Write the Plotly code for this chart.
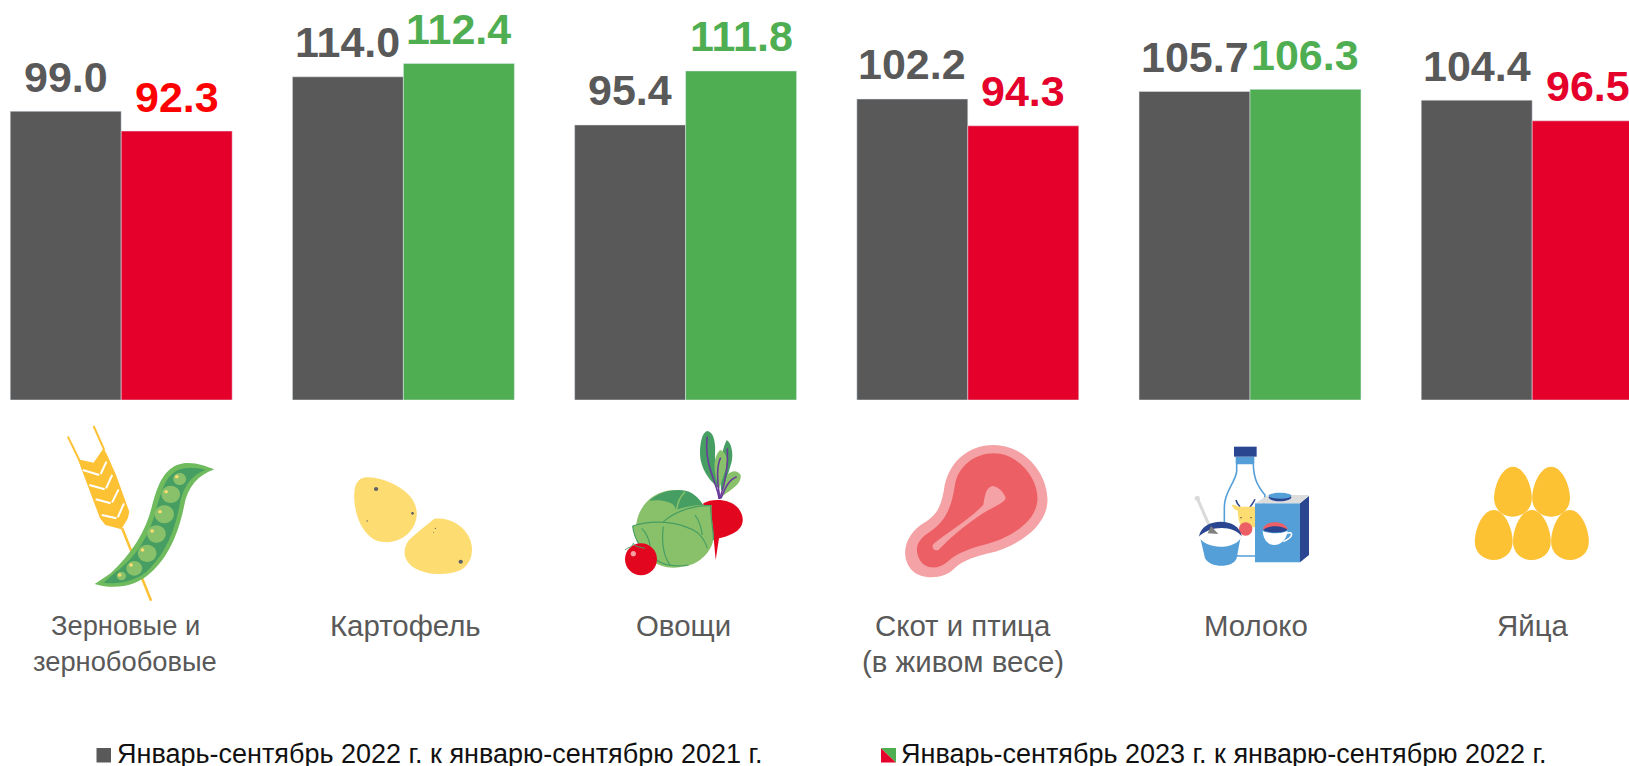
import re
import plotly.graph_objects as go

W, H = 1629, 766

category_lines = [["Зерновые и", "зернобобовые"], ["Картофель"], ["Овощи"], ["Скот и птица", "(в живом весе)"], ["Молоко"], ["Яйца"]]
category_shift_px = [4, 2, -2.5, -5, 5.5, 0]
category_font = [27.3, 29.4, 29.4, 29.4, 29.4, 29.4]
series_2022_name = "Январь-сентябрь 2022 г. к январю-сентябрю 2021 г."
series_2023_name = "Январь-сентябрь 2023 г. к январю-сентябрю 2022 г."
# printed labels
labels_2022 = ["99.0", "114.0", "95.4", "102.2", "105.7", "104.4"]
labels_2023 = ["92.3", "112.4", "111.8", "94.3", "106.3", "96.5"]
# bar heights as drawn in the picture (they differ a little from the printed labels)
heights_2022 = [99.0, 110.8, 94.3, 103.2, 105.8, 102.8]
heights_2023 = [92.2, 115.4, 112.8, 94.0, 106.5, 95.7]

GRAY, RED, GREEN = "#595959", "#E4002B", "#4FAE52"
colors_2023 = [RED, GREEN, GREEN, RED, GREEN, RED]
label_colors_2023 = ["#FF0000", GREEN, GREEN, RED, GREEN, RED]
FONT = "Liberation Sans, Arial, sans-serif"

PERIOD, FIRST_CENTER = 282.2, 121.2
BARGAP = 0.2135
BASE_Y = 400
PX_PER_UNIT = 2.917

idx = list(range(len(labels_2022)))
fig = go.Figure()
fig.add_bar(x=idx, y=heights_2022, name=series_2022_name, marker_color=GRAY)
fig.add_bar(x=idx, y=heights_2023, name=series_2023_name, marker_color=colors_2023)

half = (1 - BARGAP) / 4
ann = []
for i in idx:
    ann.append(dict(x=i - half, y=heights_2022[i], text=labels_2022[i], font=dict(color=GRAY)))
    ann.append(dict(x=i + half, y=heights_2023[i], text=labels_2023[i], font=dict(color=label_colors_2023[i])))
for a in ann:
    a.update(xref="x", yref="y", showarrow=False, yanchor="bottom", yshift=9.5, borderpad=0)
    a["font"].update(family=FONT, size=43, weight="bold")

# category names sit below the icons, so each line is placed on its own
for i, lines in enumerate(category_lines):
    for n, line in enumerate(lines):
        ann.append(dict(xref="x", yref="paper", x=i, xshift=category_shift_px[i], y=1 - (625 + 36 * n) / H,
                        text=line, showarrow=False, yanchor="middle", borderpad=0,
                        font=dict(family=FONT, size=category_font[i], color=GRAY)))

# legend, drawn by hand because the second swatch is two-coloured
for name, lx in ((series_2022_name, 115.5), (series_2023_name, 900)):
    ann.append(dict(xref="paper", yref="paper", x=lx / W, y=1 - 770 / H, text=name, showarrow=False,
                    xanchor="left", yanchor="bottom", borderpad=0,
                    font=dict(family=FONT, size=27, color="#111111")))

shapes = []

def conv(path, x0, y0, sx, sy):
    toks = re.findall(r"[MLCQZ]|-?\d+\.?\d*", path)
    res, is_x = [], True
    for t in toks:
        if t.isalpha():
            res.append(t)
            is_x = True
        elif is_x:
            res.append(f"{(float(t) / sx + x0) / W:.5f},")
            is_x = False
        else:
            res.append(f"{1 - (float(t) / sy + y0) / H:.5f} ")
            is_x = True
    return "".join(res).strip()

Z_L = (0, 410, 2.8, 3)         # grain and potato
Z_M = (560, 410, 2.8, 3)       # meat
Z_V = (620, 425, 3, 3)         # vegetables
Z_K = (1185, 440, 3, 3)        # milk
Z_R = (1100, 410, 2.964, 3)    # eggs

def P(path, Z, fill=None, line=None, lw=0):
    shapes.append(dict(type="path", xref="paper", yref="paper", path=conv(path, *Z),
                       fillcolor=fill if fill else "rgba(0,0,0,0)",
                       line=dict(color=line if line else "rgba(0,0,0,0)", width=lw)))

def E(cx, cy, rx, ry, Z, fill):
    k = 0.5523
    p = (f"M {cx-rx} {cy} C {cx-rx} {cy-k*ry} {cx-k*rx} {cy-ry} {cx} {cy-ry} "
         f"C {cx+k*rx} {cy-ry} {cx+rx} {cy-k*ry} {cx+rx} {cy} "
         f"C {cx+rx} {cy+k*ry} {cx+k*rx} {cy+ry} {cx} {cy+ry} "
         f"C {cx-k*rx} {cy+ry} {cx-rx} {cy+k*ry} {cx-rx} {cy} Z")
    P(p, Z, fill=fill)

YEL, POT, LG, DG, LPOD = "#FDC134", "#FDDC72", "#89C16A", "#479E63", "#6FBB5E"
CR, BL, NV, PK, SAL = "#E2071F", "#559FD8", "#2B4690", "#F4A2A5", "#EC6065"

# wheat
P("M 190 80 L 222 150", Z_L, line=YEL, lw=2)
P("M 262 48 L 292 120", Z_L, line=YEL, lw=2)
P("M 342 355 L 423 572", Z_L, line=YEL, lw=2.5)
P("M 218 148 L 262 158 L 290 115 L 300 135 L 325 195 L 362 305 L 358 325 L 340 358 L 295 345 L 280 325 Z", Z_L, fill=YEL)
for a, b, c in [((232,180),(278,195),(298,155)), ((250,225),(293,238),(314,195)),
                ((268,268),(310,280),(332,238)), ((285,315),(326,325),(347,280))]:
    P(f"M {a[0]} {a[1]} L {b[0]} {b[1]} M {b[0]+4} {b[1]-3} L {c[0]} {c[1]}", Z_L, line="#FFFFFF", lw=2)
# pod
P("M 600 178 C 570 165 530 150 495 165 C 455 185 440 230 425 290 C 410 360 370 430 310 490 L 265 522 "
  "C 320 540 380 530 420 490 C 470 445 500 370 515 290 C 525 230 555 195 600 178 Z", Z_L, fill=LPOD)
P("M 575 180 C 545 170 510 170 490 185 C 460 205 450 250 437 300 C 420 370 385 440 320 490 L 290 518 "
  "C 340 525 390 510 420 475 C 465 425 490 360 503 285 C 513 225 540 195 575 180 Z", Z_L, fill=DG)
for cx, cy, r in [(503,207,18),(478,253,26),(460,313,27),(438,372,26),(412,430,26),(376,475,22),(340,498,13)]:
    E(cx, cy, r, r, Z_L, LG)
for cx, cy in [(495,200),(465,245),(448,305),(426,363),(399,420),(367,465),(335,495)]:
    E(cx, cy, 5, 5, Z_L, POT)
# potatoes
P("M 1025 202 C 1060 200 1110 220 1140 250 C 1170 280 1175 320 1155 355 C 1130 395 1085 405 1050 390 "
  "C 1015 370 995 320 992 270 C 990 225 1000 205 1025 202 Z", Z_L, fill=POT)
P("M 1215 327 C 1250 320 1290 340 1310 375 C 1330 410 1325 460 1290 480 C 1250 500 1190 495 1155 470 "
  "C 1130 450 1125 420 1145 390 C 1165 370 1190 350 1215 327 Z", Z_L, fill=POT)
for cx, cy, r in [(1053,237,6),(1155,310,4),(1028,333,2),(1290,455,6),(1219,355,2),(1214,367,1.5)]:
    E(cx, cy, r, r, Z_L, "#5F6368")

# beet
P("M 262 18 C 280 20 288 50 285 90 C 285 130 295 170 297 190 C 270 170 240 130 240 85 C 240 50 248 20 262 18 Z", Z_V, fill=DG)
P("M 320 45 C 335 55 340 85 335 110 L 310 195 L 303 195 C 300 140 300 85 320 45 Z", Z_V, fill=DG)
P("M 300 75 C 318 80 325 100 318 130 L 298 190 C 282 150 275 100 300 75 Z", Z_V, fill=LG)
P("M 362 150 C 352 135 335 135 322 150 L 305 215 C 330 195 365 180 362 150 Z", Z_V, fill=LG)
for d in ["M 297 222 C 295 180 250 120 262 35", "M 300 222 C 290 170 290 120 302 98",
          "M 300 220 C 320 160 325 110 322 70", "M 303 220 C 315 190 325 165 350 155"]:
    P(d, Z_V, line="#6A3D9A", lw=1.6)
P("M 250 235 C 275 220 330 220 355 250 C 378 280 370 310 340 325 C 325 333 310 338 297 340 L 287 405 L 281 340 L 250 300 Z", Z_V, fill=CR)
# cabbage
E(160, 312, 112, 116, Z_V, LG)
P("M 38 303 C 42 340 65 385 110 405 L 110 295 Z", Z_V, fill=LG)
P("M 130 290 C 165 260 220 240 275 240 C 272 270 282 320 280 345 C 270 390 230 420 190 425 L 150 350 Z", Z_V, fill=LG)
P("M 88 228 C 115 200 165 190 200 198 C 225 205 240 225 250 240 C 225 240 195 245 168 255 C 165 245 160 235 145 232 C 125 225 105 225 88 228 Z", Z_V, fill=DG)
P("M 195 200 C 180 215 172 235 170 255", Z_V, line=LG, lw=1.5)
for d in ["M 38 303 C 90 285 180 285 235 325 C 250 340 258 355 262 370",
          "M 130 290 C 165 260 220 240 272 242 C 270 275 282 320 280 345",
          "M 38 303 C 42 340 65 385 110 405 C 135 425 170 425 205 420",
          "M 130 305 C 125 345 125 385 150 420",
          "M 65 310 C 80 325 88 345 90 362",
          "M 225 270 C 240 290 245 315 247 330"]:
    P(d, Z_V, line=DG, lw=1.2)
# tomato
E(63, 403, 48, 48, Z_V, CR)
E(40, 386, 8, 8, Z_V, PK)
P("M 15 375 C 25 365 35 370 40 355 C 45 365 55 365 75 370", Z_V, line=DG, lw=1)
# meat
P("M 1215 105 C 1300 105 1365 190 1365 270 C 1365 350 1280 410 1200 430 C 1165 440 1130 450 1105 475 "
  "C 1075 510 1010 510 985 480 C 955 445 960 385 1010 345 C 1050 320 1065 300 1075 240 C 1085 160 1140 105 1215 105 Z", Z_M, fill=PK)
P("M 1215 130 C 1280 130 1337 200 1337 265 C 1337 335 1260 385 1185 405 C 1150 415 1110 430 1085 455 "
  "C 1060 480 1020 480 1005 445 C 990 410 1005 385 1040 362 C 1075 335 1095 300 1105 230 C 1112 170 1160 130 1215 130 Z", Z_M, fill=SAL)
P("M 1210 228 C 1230 230 1245 250 1248 265 C 1240 285 1200 295 1170 320 C 1130 350 1090 385 1060 420 "
  "C 1045 425 1038 410 1048 400 C 1080 370 1140 335 1185 285 C 1190 260 1190 235 1210 228 Z", Z_M, fill=PK)

# milk bottle
P("M 155 70 L 155 95 C 150 130 118 155 118 200 L 118 330 C 120 345 150 348 165 348 L 215 348 L 240 165 C 215 135 205 110 205 70 Z",
  Z_K, fill="#FFFFFF", line=BL, lw=1.6)
P("M 152 50 L 208 50 L 208 70 L 152 70 Z", Z_K, fill=BL)
P("M 147 20 L 215 20 L 215 50 L 147 50 Z", Z_K, fill=NV)
# cow
P("M 153 180 C 155 190 160 195 165 200", Z_K, line=NV, lw=1.5)
P("M 210 178 C 205 190 198 195 195 202", Z_K, line=NV, lw=1.5)
P("M 140 195 C 150 193 157 198 162 205 L 157 212 C 150 210 145 205 140 195 Z", Z_K, fill=POT)
P("M 158 200 L 212 200 L 212 262 L 170 262 C 160 245 158 225 158 200 Z", Z_K, fill=POT)
E(168, 233, 2, 2, Z_K, "#333333")
E(198, 233, 2, 2, Z_K, "#333333")
E(182, 267, 20, 20, Z_K, SAL)
# carton
P("M 210 190 L 345 190 L 345 367 L 210 367 Z", Z_K, fill=BL)
P("M 345 190 L 372 168 L 372 345 L 345 367 Z", Z_K, fill=NV)
P("M 210 190 L 250 165 L 372 165 L 345 190 Z", Z_K, fill="#DDDDDD")
E(285, 172, 34, 12, Z_K, NV)
E(285, 167, 34, 9, Z_K, BL)
P("M 233 268 C 240 240 300 240 308 268 Z", Z_K, fill=SAL)
P("M 235 270 C 245 255 295 255 307 270 C 295 280 245 280 235 270 Z", Z_K, fill=NV)
P("M 233 272 C 245 282 295 282 308 272 C 305 300 285 315 268 315 C 250 315 235 300 233 272 Z", Z_K, fill="#FFFFFF")
P("M 305 280 C 325 272 328 290 295 305", Z_K, line="#FFFFFF", lw=1.5)
# bowl and spoon
P("M 37 175 L 75 262", Z_K, line="#DADADA", lw=3)
E(37, 175, 8, 8, Z_K, "#DADADA")
P("M 46 295 C 70 325 145 325 167 290 L 155 355 C 145 385 75 385 60 355 Z", Z_K, fill=BL)
P("M 42 290 C 50 230 165 230 170 290 C 150 262 65 262 42 290 Z", Z_K, fill=NV)
P("M 42 292 C 70 255 150 255 170 290 C 150 330 65 330 42 292 Z", Z_K, fill="#FFFFFF")
P("M 68 280 L 78 258 L 100 282 Z", Z_K, fill="#808080")

# eggs
for cx, top in [(1224,170),(1337,170),(1167,300),(1280,300),(1393,300)]:
    bot, hw = top + 150, 56
    P(f"M {cx} {top} C {cx+32} {top} {cx+hw} {top+55} {cx+hw} {top+95} C {cx+hw} {top+130} {cx+28} {bot} {cx} {bot} "
      f"C {cx-28} {bot} {cx-hw} {top+130} {cx-hw} {top+95} C {cx-hw} {top+55} {cx-32} {top} {cx} {top} Z", Z_R, fill=YEL)

# legend swatches
P("M 96.5 748 L 111 748 L 111 762.5 L 96.5 762.5 Z", (0, 0, 1, 1), fill=GRAY)
P("M 881 748 L 896 762.5 L 881 762.5 Z", (0, 0, 1, 1), fill=RED)
P("M 881 748 L 896 748 L 896 762.5 Z", (0, 0, 1, 1), fill=GREEN)

fig.update_layout(
    width=W, height=H, margin=dict(l=0, r=0, t=0, b=0, pad=0, autoexpand=False),
    paper_bgcolor="white", plot_bgcolor="white",
    barmode="group", bargap=BARGAP, bargroupgap=0, showlegend=False,
    font=dict(family=FONT),
    annotations=ann, shapes=shapes,
    xaxis=dict(domain=[0, 1], range=[-FIRST_CENTER / PERIOD, (W - FIRST_CENTER) / PERIOD], tickmode="array",
               tickvals=idx, showticklabels=False, ticks="", showline=False, showgrid=False, zeroline=False,
               automargin=False),
    yaxis=dict(domain=[1 - BASE_Y / H, 1], range=[0, BASE_Y / PX_PER_UNIT], visible=False, automargin=False),
)
fig.write_html("out.html", post_script="document.body.style.margin='0';document.body.style.overflow='hidden';",
               config=dict(displayModeBar=False))
